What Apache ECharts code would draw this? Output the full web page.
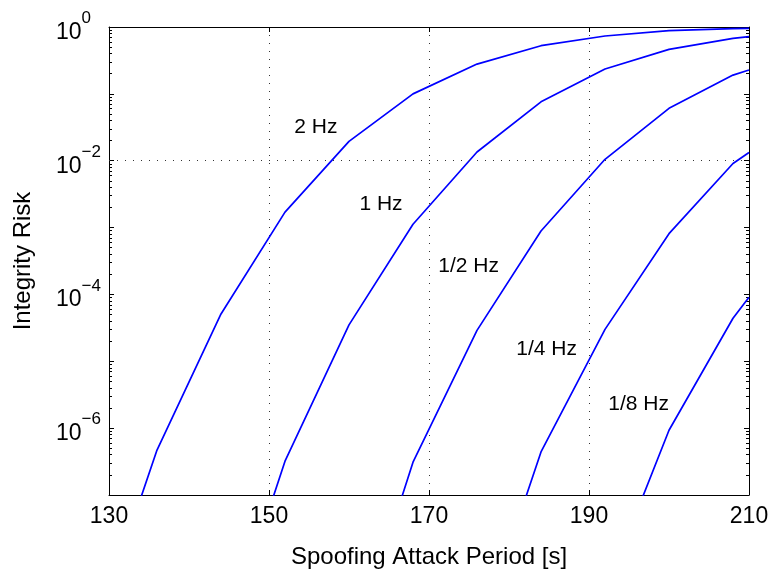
<!DOCTYPE html>
<html>
<head>
<meta charset="utf-8">
<script src="https://cdn.jsdelivr.net/npm/echarts@6/dist/echarts.min.js"></script>
<style>
html,body{margin:0;padding:0;background:#fff;}
#c{width:773px;height:577px;}
</style>
</head>
<body>
<div id="c"></div>
<script>
// ---- data ----
const seriesNames = ['2 Hz', '1 Hz', '1/2 Hz', '1/4 Hz', '1/8 Hz'];
const x_2Hz   = [128, 136, 144, 152, 160, 168, 176, 184, 192, 200, 208, 210];
const y_2Hz   = [7.1e-10, 4.7e-7, 5.1e-5, 1.7e-3, 1.95e-2, 0.100, 0.279, 0.525, 0.733, 0.881, 0.945, 0.955];
const x_1Hz   = [144, 152, 160, 168, 176, 184, 192, 200, 208, 210];
const y_1Hz   = [4.0e-10, 3.2e-7, 3.5e-5, 1.12e-3, 1.35e-2, 7.6e-2, 0.235, 0.463, 0.676, 0.716];
const x_half  = [160, 168, 176, 184, 192, 200, 208, 210];
const y_half  = [3.2e-10, 3.1e-7, 2.9e-5, 8.9e-4, 1.05e-2, 6.07e-2, 0.191, 0.227];
const x_quart = [176, 184, 192, 200, 208, 210];
const y_quart = [6.3e-10, 4.4e-7, 3.0e-5, 8.1e-4, 9.1e-3, 1.33e-2];
const x_eighth= [192, 200, 208, 210];
const y_eighth= [3.5e-9, 9.3e-7, 4.4e-5, 9.1e-5];

const xTicks = [130, 150, 170, 190, 210];
const yGridValues = [1e-2, 1e-4, 1e-6];
// curve annotation anchors (data coordinates)
const annotX = [155.85, 164.0, 174.96, 184.7, 196.2];
const annotY = [3.2e-2, 2.2e-3, 2.6e-4, 1.5e-5, 2.3e-6];

const xs = [x_2Hz, x_1Hz, x_half, x_quart, x_eighth];
const ys = [y_2Hz, y_1Hz, y_half, y_quart, y_eighth];

const FONT = '"Liberation Sans", Arial, Helvetica, sans-serif';
const BLUE = '#0000ff';

function pairs(a, b) { return a.map((v, i) => [v, b[i]]); }

function yLabel(v) {
  const e = Math.round(Math.log10(v));
  if (e % 2 !== 0) return '';
  const ex = e === 0 ? '0' : '\u2212' + (-e);
  return '{b|10}{s|' + ex + '}';
}

const series = seriesNames.map((name, i) => ({
  name: name,
  type: 'line',
  data: pairs(xs[i], ys[i]),
  showSymbol: false,
  symbol: 'none',
  clip: true,
  lineStyle: { color: BLUE, width: 1.7 },
  itemStyle: { color: BLUE },
  z: 3
}));

// grid lines at labelled decades
series.push({
  type: 'line',
  data: [],
  silent: true,
  markLine: {
    silent: true,
    symbol: 'none',
    label: { show: false },
    lineStyle: { color: '#333', width: 1, type: [1, 7] },
    data: yGridValues.map(v => ({ yAxis: v }))
  }
});

const chart = echarts.init(document.getElementById('c'), null, { renderer: 'canvas' });
chart.setOption({
  backgroundColor: '#fff',
  animation: false,
  grid: { left: 109, right: 24, top: 27, bottom: 82, containLabel: false },
  xAxis: [{
    type: 'value',
    min: 130, max: 210, interval: 20,
    name: 'Spoofing Attack Period [s]',
    nameLocation: 'middle',
    nameGap: 50,
    nameTextStyle: { fontFamily: FONT, fontSize: 24, color: '#000' },
    axisLine: { lineStyle: { color: '#000', width: 1 } },
    axisTick: { inside: true, length: 5, lineStyle: { color: '#000' } },
    axisLabel: { margin: 10, fontFamily: FONT, fontSize: 23, color: '#000',
      formatter: v => xTicks.includes(v) ? String(v) : '' },
    splitLine: { show: true, lineStyle: { color: '#333', width: 1, type: [1, 7] } }
  }, {
    type: 'value',
    position: 'top',
    min: 130, max: 210, interval: 20,
    axisLine: { lineStyle: { color: '#000', width: 1 } },
    axisTick: { inside: true, length: 5, lineStyle: { color: '#000' } },
    axisLabel: { show: false },
    splitLine: { show: false }
  }],
  yAxis: [{
    type: 'log',
    logBase: 10,
    min: 1e-7, max: 1,
    name: 'Integrity Risk',
    nameLocation: 'middle',
    nameGap: 74,
    nameTextStyle: { fontFamily: FONT, fontSize: 24, color: '#000' },
    axisLine: { lineStyle: { color: '#000', width: 1 } },
    axisTick: { inside: true, length: 5, lineStyle: { color: '#000' } },
    minorTick: { show: true, splitNumber: 9, length: 3, lineStyle: { color: '#000' } },
    axisLabel: {
      margin: 53,
      align: 'left',
      verticalAlign: 'middle',
      formatter: yLabel,
      rich: {
        b: { fontFamily: FONT, fontSize: 23, color: '#000', lineHeight: 34, verticalAlign: 'bottom' },
        s: { fontFamily: FONT, fontSize: 17, color: '#000', lineHeight: 17, verticalAlign: 'top' }
      }
    },
    splitLine: { show: false }
  }, {
    type: 'log',
    logBase: 10,
    min: 1e-7, max: 1,
    position: 'right',
    axisLine: { lineStyle: { color: '#000', width: 1 } },
    axisTick: { inside: true, length: 5, lineStyle: { color: '#000' } },
    minorTick: { show: true, splitNumber: 9, length: 3, lineStyle: { color: '#000' } },
    axisLabel: { show: false },
    splitLine: { show: false }
  }],
  series: series
});

// curve annotations positioned through the chart's own scales
chart.setOption({
  graphic: annotX.map((x, i) => {
    const p = chart.convertToPixel({ xAxisIndex: 0, yAxisIndex: 0 }, [x, annotY[i]]);
    return {
      type: 'text',
      x: p[0], y: p[1],
      silent: true,
      z: 10,
      style: {
        text: seriesNames[i],
        fill: '#000',
        font: '21px ' + FONT,
        align: 'center',
        verticalAlign: 'middle'
      }
    };
  })
});
</script>
</body>
</html>
